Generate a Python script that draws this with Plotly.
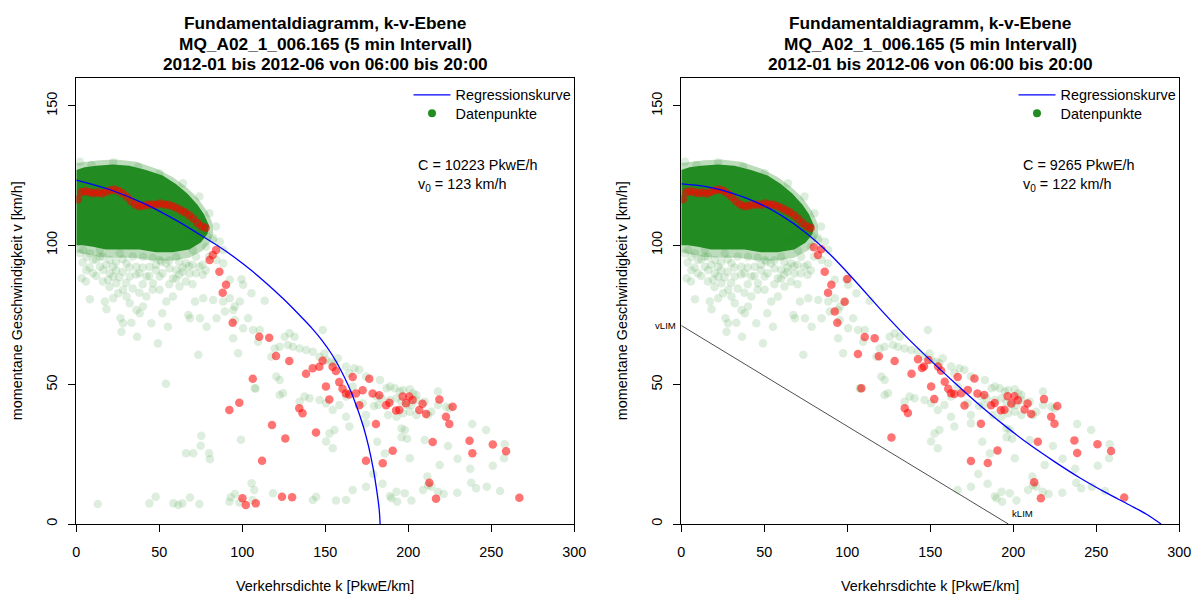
import plotly.graph_objects as go

W, H = 1197, 594

# ---------------- data ----------------
# dense core of the green point cloud (boundary, data units k / v)
core_k = [0, 5, 12, 22, 32, 42, 52, 60, 67, 73, 77, 80, 79, 75, 68, 58, 48, 38, 28, 18, 10, 4, 0]
core_v = [127, 128, 128.5, 129, 128.5, 127, 125, 122, 118.5, 114.5, 111, 107, 104, 101, 98.5, 97.5,
          97.5, 98.5, 98.5, 98.5, 99.5, 100, 100]
# thin fuzzy fringe of the cloud
fringe_k = [0, 6, 14, 24, 36, 48, 58, 66, 73, 79, 82, 82.5, 80, 76, 68, 58, 46, 34, 22, 12, 5, 0]
fringe_v = [129.5, 130, 130.5, 130.8, 130, 127.5, 124.5, 121, 117, 112, 108, 104, 100.5, 98, 95.5, 94.5,
            94.5, 95.5, 95.5, 96, 97, 97.5]

# sparse green data points (k, v)
green_pts = [
    (2.2, 130), (9.2, 128.8), (22.2, 129.7), (37.2, 128.2), (50.2, 125.8), (64.2, 122.2), (74.2, 117.5),
    (80.2, 111.5), (84.2, 106.7),
    (20.2, 94.7), (30.2, 93.5), (40.2, 95.9), (50.2, 94.7), (60.2, 95.9), (66.2, 93.5), (72.2, 95.9),
    (74.2, 92.3), (14.2, 98.3), (8.2, 97.1), (4.2, 98.3), (26.2, 97.1), (36.2, 92.3), (44.2, 92.3),
    (56.2, 91.7), (68.2, 89.9), (76.2, 89.4), (22.2, 92.3), (32.2, 88.8), (42.2, 88.8), (50.2, 88.8),
    (58.2, 88.2), (14.2, 92.3), (10.2, 94.7), (6.2, 95.9), (2.2, 97.1), (60.2, 91.1), (70.2, 98.3),
    (78.2, 99.5), (82.2, 101.9),
    (16, 96), (24, 94), (34, 96), (46, 95.5), (54, 93.5), (64, 92), (70, 93), (28, 90.5), (38, 90),
    (48, 91), (62, 89.5), (12, 95), (40, 86), (34, 84.5), (30, 86.5), (26, 88.5), (20, 85),
    (8, 92), (12, 89), (18, 93), (24, 91), (28, 95), (32, 92), (36, 89.5), (40, 92), (44, 89), (48, 93),
    (52, 90), (56, 94.5), (60, 88), (64, 90.5), (68, 92.5), (72, 90), (76, 93), (80, 96), (78, 91),
    (66, 87), (46, 84), (38, 83), (56, 86), (10, 90), (6, 91), (16, 87), (70, 86), (62, 94),
    (3.8, 93.8), (8.2, 80.6), (3.2, 88.2), (5.8, 87), (17.2, 79.8), (18.2, 77), (26.6, 73.8), (28.2, 72),
    (27.2, 69), (33.2, 72.2), (36.6, 67.2), (45.2, 72), (49.2, 64.8), (51.8, 75.6), (55.2, 70.8),
    (50.2, 84), (46.2, 86.4), (42.2, 81.6), (40.2, 78), (38.2, 75.6), (36.2, 76.8), (32.2, 79.2),
    (30.2, 81.6), (28.2, 84), (24.2, 86.4), (22.2, 88.8), (20.2, 90), (19.2, 87.6), (16.2, 91.1),
    (14.2, 95.9), (22.2, 81), (25.2, 82.8), (58.2, 81.6), (54.2, 79.8), (51.2, 94.1), (62.2, 85.2),
    (65.5, 101.9), (70.5, 103.7), (74.5, 104.3), (78.5, 103.7), (82.5, 102.5), (86.5, 101.3),
    (88.5, 98.3), (84.5, 94.7), (88.5, 93.5), (92.5, 87.6), (99.5, 87.8), (100.5, 85.8), (105.5, 82.8),
    (113.5, 80.1), (98.5, 79.8), (95.5, 78), (92.5, 81), (88.5, 79.8), (82.5, 80.4), (76.5, 81),
    (71.5, 79.8), (89.5, 76.2), (94.5, 76.8), (84.5, 73.8), (78.5, 70.8), (74.5, 73.8), (68.5, 73.8),
    (67.5, 75), (95.5, 73.2), (100.5, 70.2), (103.5, 73.8), (106.5, 69.6), (110.5, 69.6), (94.5, 66.6),
    (97.5, 61.3), (109.5, 65.4), (117.5, 60), (119.5, 63), (122.5, 63.6), (125.5, 67.2), (128.5, 68.4),
    (131.5, 67.2), (127.5, 64.2), (130.5, 63.6), (134.5, 63), (138.5, 62.4), (142.5, 61.8), (146.5, 60),
    (148.5, 69.6), (149.5, 61.2), (150.5, 58.8), (153.5, 58.2), (155.5, 57.7), (157.5, 59.5),
    (162.5, 56.5), (164.5, 54.1), (167.5, 55.9), (170.5, 55.3), (174.5, 52.9), (120.5, 52.9),
    (122.5, 51.7), (124.5, 46.9), (140.5, 45.1), (137.5, 45.7), (134.5, 43.9), (146.5, 44.5),
    (150.5, 43.3), (154.5, 40.9), (158.5, 42.7), (162.5, 45.7), (166.5, 49.3), (172.5, 43.3),
    (174.5, 39.1), (162.5, 38.5), (155.5, 33.7), (152.5, 32.5), (150.5, 29.6), (154.5, 27.2),
    (164.5, 35), (174.5, 36.1), (174.5, 13.4), (166.5, 12.2), (162.5, 8.6), (156.5, 8.4), (144.5, 9.8),
    (142.5, 8.6), (118.5, 11), (107.5, 48.7), (73.5, 60.7), (122.5, 46.3),
    (12.9, 7.2), (44, 7.4), (47.8, 9.8), (58.5, 7.4), (61.5, 6.8), (63.9, 7.4), (68.5, 9.5), (74.1, 7.2),
    (74.9, 28.1), (75.3, 31.7), (66.1, 25.4), (70.5, 25.4), (80, 25.4), (80.5, 23.2), (54, 50.3),
    (92.2, 8), (93, 9.6), (95.6, 10.8), (98.2, 7.7), (99.2, 30.2), (105.6, 14.6), (107.2, 12.2),
    (106.2, 8.6), (108, 48.6),
    (182.9, 51.7), (186.9, 48.7), (188.9, 49.3), (191.9, 48.7), (194.9, 47.5), (196.9, 48.1),
    (200.9, 48.3), (202.9, 46.9), (204.9, 46.3), (180.9, 45.7), (183.9, 45.1), (188.9, 44.5),
    (192.9, 45.1), (195.9, 43.9), (198.9, 42.7), (201.9, 42.7), (204.9, 44.5), (209.9, 43.9),
    (213.9, 40.3), (211.9, 39.1), (204.9, 39.1), (196.9, 39.7), (200.9, 40.3), (217.9, 47.5),
    (217.9, 42.7), (222.9, 42.1), (224.9, 41.5), (187.9, 39.1), (192.9, 38.5), (179.3, 42.3),
    (181.9, 42.7), (195.9, 34.3), (197.9, 33.7), (195.9, 31.1), (199.3, 30.6), (209.9, 30.1),
    (223.9, 28), (181.3, 29.5), (185.9, 25.3), (200.9, 23.6), (218.9, 21.2), (211.5, 17), (211.9, 14),
    (213.9, 13.4), (217.9, 11.6), (221.3, 10.8), (208.9, 12.2), (192.9, 11.6), (188.9, 10),
    (189.9, 9.2), (193.3, 8), (197.9, 11), (201.9, 8.4), (229.5, 11.2), (184.5, 14.4), (178.9, 17.9),
    (237.9, 14.8), (240.9, 12.8), (247.3, 13.4), (255.3, 11.8), (237.3, 19.8), (250.9, 20.9),
    (257.7, 23.6), (258.1, 28.6), (246.9, 33.7), (238.5, 35.9), (229.7, 23.4),
]
green_k = [p[0] for p in green_pts]
green_v = [p[1] for p in green_pts]

# red points: chain through the cloud (both panels)
chain_k = [1, 3, 5.5, 8, 10.5, 13, 15.5, 18, 20.5, 23, 25.5, 28, 30.5, 33, 35.5, 38, 40.5, 43, 45.5,
           48, 50.5, 53, 55.5, 58, 60.5, 63, 65.5, 68, 70.5, 73, 75.5, 78]
chain_v = [116.5, 119, 119.4, 119, 118.7, 118.9, 118.6, 119.2, 119.7, 120, 119.5, 118.6, 117.3, 115.8,
           114.6, 114, 114.2, 114.5, 114.6, 114.5, 115, 114.6, 114.5, 114, 113.4, 112.6, 111.8, 110.8,
           109.5, 108, 106.8, 106.2]

red_left = [
    (80.3, 94.7), (82.2, 96.5), (84.2, 98.3), (86.2, 90.5), (90.2, 85.8), (88.2, 83), (94.2, 72.2),
    (110.2, 67.2), (116.2, 66.8), (120.3, 60.3), (128.3, 58.5), (106.3, 52.1), (98.2, 43.5),
    (92.2, 40.9), (134.3, 41.5), (136.3, 39.7), (138.4, 53.9), (142.4, 55.9), (146.4, 56.4),
    (148.4, 58.6), (154.4, 56.4), (156.4, 54.9), (150.4, 49.3), (152.4, 44.7), (158.4, 50.9),
    (160.4, 48.5), (162.4, 46.8), (164.4, 46.5), (166.5, 52.7), (168.5, 46.8), (172.5, 48),
    (176.5, 52.1), (178.5, 46.8), (182.5, 46.2), (170.5, 42.6), (186.6, 42.6), (188.6, 43.5),
    (192.6, 40.7), (194.6, 40.9), (196.6, 45.7), (200.6, 45.7), (198.6, 43.3), (202.6, 44.5),
    (206.6, 40.9), (208.6, 43.1), (210.7, 39.5), (218.7, 44.7), (226.7, 42.1), (222.7, 38.5),
    (224.7, 35.9), (180.5, 35.9), (190.6, 26.3), (184.6, 21.8), (214.7, 29.4), (212.7, 14.8),
    (216.7, 9.1), (236.9, 29.9), (238.6, 25.4), (250.9, 28.5), (258.9, 26.1), (266.9, 9.4),
    (117.9, 35.5), (125.9, 30.7), (111.9, 22.7), (100.1, 9.2), (102.1, 6.8), (108.1, 7.4),
    (123.9, 9.8), (130, 9.6), (144.4, 32.8), (174.5, 22.7),
]
red_right = [
    (79.9, 99.3), (82.3, 96.5), (84.3, 98.6), (86.4, 90.5), (90.4, 85.8), (88.4, 83), (100, 87.9),
    (98.4, 79.7), (92.4, 76.2), (94, 72.2), (110.5, 67.1), (116.5, 66.6), (106.4, 61), (119, 60.2),
    (128.5, 58.5), (108.5, 48.7), (126.6, 31), (134.6, 41.5), (136.5, 39.8), (138.7, 53.9),
    (142.6, 59.1), (145, 56), (146.2, 56.5), (148.8, 58.8), (154.7, 56.5), (156.5, 55), (150.5, 49.3),
    (152.4, 44.8), (158.7, 51), (160.8, 48.5), (162.5, 46.9), (164.5, 46.6), (166.5, 52.7),
    (168.6, 46.9), (172.6, 48.1), (176.6, 52.2), (178.4, 46.8), (182.5, 46.3), (170.6, 42.5),
    (180.5, 36), (186.6, 42.6), (188.8, 43.4), (192.5, 40.8), (194.7, 41), (196.6, 45.8),
    (200.7, 45.8), (198.8, 43.2), (202.8, 44.4), (206.8, 41.1), (208.6, 43.2), (210.8, 39.5),
    (218.5, 44.8), (226.5, 42.3), (222.8, 38.5), (224.8, 36), (190.5, 26.4), (174.5, 22.6),
    (184.6, 21.9), (214.8, 29.5), (212.6, 15), (216.6, 9.2), (236.8, 30), (238.5, 25.5),
    (250.7, 28.6), (258.9, 26.2), (266.8, 9.5),
]

# regression curves
left_curve_k = [0, 20, 40, 60, 75, 85, 95, 105, 115, 125, 135, 142, 148, 154, 159, 164, 169, 173, 176,
                179, 181, 182.5, 183]
left_curve_v = [123.4, 120, 115.2, 109, 103.6, 99.9, 95.8, 91.2, 86.1, 80.6, 74.6, 70.2, 65.9, 60.8,
                55.6, 49.5, 42, 34.8, 28, 19.4, 12, 5, 0]
right_curve_k = [0, 15, 30, 45, 60, 75, 90, 105, 120, 135, 150, 165, 180, 195, 210, 225, 240, 255, 270,
                 280, 289]
right_curve_v = [122, 121, 118.8, 115.5, 110.8, 104.5, 96.5, 87, 77, 67.5, 58.8, 50.5, 42.5, 35.2, 28.4,
                 22.3, 16.6, 11.5, 6.8, 3.6, 0]

# limit line (right panel)
lim_k = [0, 197]
lim_v = [71.2, 0]

titles = ["Fundamentaldiagramm, k-v-Ebene", "MQ_A02_1_006.165 (5 min Intervall)",
          "2012-01 bis 2012-06 von 06:00 bis 20:00"]
params_left = ["C = 10223 PkwE/h", "v<sub>0</sub> = 123 km/h"]
params_right = ["C = 9265 PkwE/h", "v<sub>0</sub> = 122 km/h"]
x_ticks = [0, 50, 100, 150, 200, 250, 300]
y_ticks = [0, 50, 100, 150]

# ---------------- figure ----------------
FONT = "Liberation Sans, Arial, sans-serif"
GREEN = "rgb(34,139,34)"
fig = go.Figure()


def add_panel(xa, ya, red_pts, ck, cv, leg_line, leg_pts, filt=False):
    fig.add_trace(go.Scatter(x=fringe_k, y=fringe_v, fill="toself", mode="lines", line=dict(width=0),
                             fillcolor="rgba(34,139,34,0.3)", hoverinfo="skip", showlegend=False,
                             xaxis=xa, yaxis=ya))
    fig.add_trace(go.Scatter(x=core_k, y=core_v, fill="toself", mode="lines", line=dict(width=0),
                             fillcolor=GREEN, hoverinfo="skip", showlegend=False, xaxis=xa, yaxis=ya))
    gk, gv = green_k, green_v
    if filt:
        keep = [i for i in range(len(gk)) if gv[i] > lim_v[0] * (1 - gk[i] / lim_k[1])]
        gk = [gk[i] for i in keep]
        gv = [gv[i] for i in keep]
    fig.add_trace(go.Scatter(x=gk, y=gv, mode="markers",
                             marker=dict(size=8.5, color="rgba(34,139,34,0.15)", line=dict(width=0)),
                             showlegend=False, xaxis=xa, yaxis=ya))
    fig.add_trace(go.Scatter(x=chain_k + [p[0] for p in red_pts], y=chain_v + [p[1] for p in red_pts],
                             mode="markers",
                             marker=dict(size=8.5, color="rgba(255,0,0,0.55)", line=dict(width=0)),
                             showlegend=False, xaxis=xa, yaxis=ya))
    fig.add_trace(go.Scatter(x=ck, y=cv, mode="lines", line=dict(color="blue", width=1.3, shape="spline"),
                             name="Regressionskurve", legend=leg_line, xaxis=xa, yaxis=ya))
    fig.add_trace(go.Scatter(x=[None], y=[None], mode="markers", marker=dict(size=8, color=GREEN),
                             name="Datenpunkte", legend=leg_pts, xaxis=xa, yaxis=ya))


add_panel("x", "y", red_left, left_curve_k, left_curve_v, "legend", "legend2")
fig.add_trace(go.Scatter(x=lim_k, y=lim_v, mode="lines", line=dict(color="black", width=0.7),
                         showlegend=False, xaxis="x2", yaxis="y2"))
add_panel("x2", "y2", red_right, right_curve_k, right_curve_v, "legend3", "legend4", filt=True)

px_l = [76.3, 574.3]
px_r = [681.3, 1179.3]
ybot, ytop = 524, 78
ydom = [(H - ybot) / H, (H - ytop) / H]

axis_common = dict(range=[0, 300], tickvals=x_ticks, ticks="outside", ticklen=7, tickcolor="black",
                   showline=True, mirror=True, linecolor="black", linewidth=1, showgrid=False,
                   zeroline=False, tickfont=dict(family=FONT, size=14.4, color="black"),
                   ticklabelstandoff=8, automargin=False)
yaxis_common = dict(range=[0, 160], tickvals=y_ticks, ticks="outside", ticklen=7, tickcolor="black",
                    showline=True, mirror=True, linecolor="black", linewidth=1, showgrid=False,
                    zeroline=False, tickangle=-90, tickfont=dict(family=FONT, size=14.4, color="black"),
                    ticklabelstandoff=6, automargin=False)


def leg(xpx, ypx):
    return dict(x=xpx / W, y=(H - ypx) / H, xanchor="left", yanchor="middle", bgcolor="rgba(0,0,0,0)",
                font=dict(family=FONT, size=14.4, color="black"), itemwidth=37, tracegroupgap=0)


fig.update_layout(
    width=W, height=H, margin=dict(l=0, r=0, t=0, b=0, pad=0, autoexpand=False),
    plot_bgcolor="white", paper_bgcolor="white",
    xaxis=dict(domain=[px_l[0] / W, px_l[1] / W], anchor="y", **axis_common),
    yaxis=dict(domain=ydom, anchor="x", **yaxis_common),
    xaxis2=dict(domain=[px_r[0] / W, px_r[1] / W], anchor="y2", **axis_common),
    yaxis2=dict(domain=ydom, anchor="x2", **yaxis_common),
    legend=leg(408.5, 95), legend2=leg(408.5, 113.3),
    legend3=leg(408.5 + 605, 95), legend4=leg(408.5 + 605, 113.3),
    showlegend=True,
)

ann = []
for cx in [(px_l[0] + px_l[1]) / 2, (px_r[0] + px_r[1]) / 2]:
    for t, py in zip(titles, [22.7, 44.3, 64.3]):
        ann.append(dict(text="<b>%s</b>" % t, x=cx / W, y=(H - py) / H, xref="paper", yref="paper",
                        showarrow=False, xanchor="center", yanchor="middle",
                        font=dict(family=FONT, size=17.3, color="black")))
    ann.append(dict(text="Verkehrsdichte k [PkwE/km]", x=cx / W, y=(H - 586) / H, xref="paper",
                    yref="paper", showarrow=False, xanchor="center", yanchor="middle",
                    font=dict(family=FONT, size=14.4, color="black")))
for lx in [px_l[0] - 59, px_r[0] - 59]:
    ann.append(dict(text="momentane Geschwindigkeit v [km/h]", x=lx / W, y=((H - ybot) + (H - ytop)) / 2 / H,
                    xref="paper", yref="paper", showarrow=False, textangle=-90, xanchor="center",
                    yanchor="middle", font=dict(family=FONT, size=14.4, color="black")))
for off, params in [(0, params_left), (605, params_right)]:
    for t, py in zip(params, [165, 185]):
        ann.append(dict(text=t, x=(416 + off) / W, y=(H - py) / H, xref="paper", yref="paper",
                        showarrow=False, xanchor="left", yanchor="middle",
                        font=dict(family=FONT, size=14.4, color="black")))
ann.append(dict(text="vLIM", x=(px_r[0] - 3) / W, y=lim_v[0], xref="paper", yref="y2", showarrow=False,
                xanchor="right", yanchor="middle", font=dict(family=FONT, size=9.6, color="black")))
ann.append(dict(text="kLIM", x=lim_k[1] + 1, y=3.8, xref="x2", yref="y2", showarrow=False,
                xanchor="left", yanchor="middle", font=dict(family=FONT, size=9.6, color="black")))
fig.update_layout(annotations=ann)

fig.write_html("out.html", config={"displayModeBar": False},
               post_script="document.body.style.margin='0';document.body.style.padding='0';"
                           "document.body.style.overflow='hidden';")
